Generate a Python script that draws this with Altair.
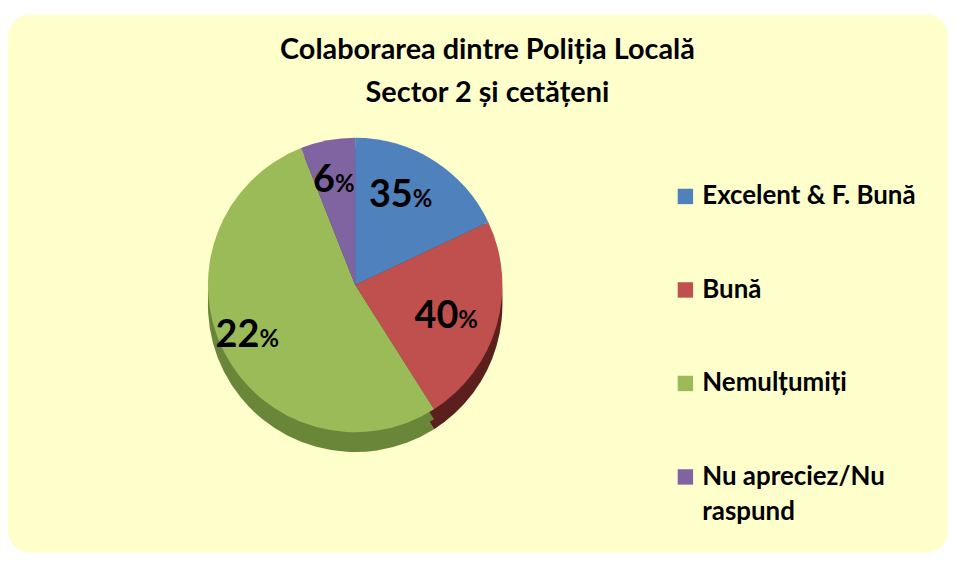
import altair as alt
import pandas as pd

# ---- data ----
categories = ["Excelent & F. Bună", "Bună", "Nemulțumiți", "Nu apreciez/Nu raspund"]
shares = [18, 23, 53, 6]                 # slice sizes as drawn
label_numbers = ["35", "40", "22", "6"]  # printed labels
top_colors = ["#4F81BD", "#C0504D", "#9BBB59", "#8064A2"]
side_colors = ["#2E4A6E", "#5B1F1E", "#6A8638", "#4A3A60"]
title_lines = ["Colaborarea dintre Poliția Locală", "Sector 2 și cetățeni"]

df = pd.DataFrame({
    "cat": categories,
    "share": shares,
    "num": label_numbers,
    "pct": ["%"] * len(categories),
    "side": side_colors,
    "idx": list(range(len(categories))),
})

W, H = 945, 541
CX, CY = 349, 272
R = 148
DEPTH = 20
FONT = "Lato"

base = alt.Chart(df).encode(
    theta=alt.Theta("share:Q", stack=True),
    order=alt.Order("idx:Q"),
)

side_far = base.mark_arc(outerRadius=R).encode(
    x=alt.value(CX), y=alt.value(CY + DEPTH),
    fill=alt.Fill("side:N", scale=None),
)
side_mid = base.mark_arc(outerRadius=R).encode(
    x=alt.value(CX), y=alt.value(CY + DEPTH / 2),
    fill=alt.Fill("side:N", scale=None),
)

top = base.mark_arc(outerRadius=R).encode(
    x=alt.value(CX), y=alt.value(CY),
    color=alt.Color(
        "cat:N",
        scale=alt.Scale(domain=categories, range=top_colors),
        legend=alt.Legend(
            title=None, orient="none", legendX=668, legendY=170, padding=0,
            symbolType="square", symbolSize=240, symbolStrokeWidth=0,
            labelFontSize=26, labelFont=FONT, labelFontWeight="bold",
            labelColor="black", rowPadding=68, labelLimit=400, labelOffset=4,
            labelExpr="datum.label == 'Nu apreciez/Nu raspund' ? ['Nu apreciez/Nu', 'raspund'] : datum.label",
        ),
    ),
)

num_text = base.mark_text(
    radius=108, fontSize=38, font=FONT, fontWeight="bold", align="right",
    baseline="alphabetic", dy=13, color="black",
).encode(x=alt.value(CX), y=alt.value(CY), text="num:N")

pct_text = base.mark_text(
    radius=108, fontSize=24, font=FONT, fontWeight="bold", align="left",
    baseline="alphabetic", dy=13, color="black",
).encode(x=alt.value(CX), y=alt.value(CY), text="pct:N")

title = alt.Chart(pd.DataFrame({"t": ["\n".join(title_lines)]})).mark_text(
    lineBreak="\n", lineHeight=43, fontSize=29, font=FONT, fontWeight="bold",
    align="center", baseline="top", color="black",
).encode(text="t:N", x=alt.value(482), y=alt.value(22))

chart = alt.layer(side_far, side_mid, top, num_text, pct_text, title).properties(
    width=W, height=H,
    autosize=alt.AutoSizeParams(type="none"),
    padding={"left": 0, "top": 5, "right": 0, "bottom": 0},
    background="white",
).configure(
    style={"guide-label": {"lineHeight": 35}},
    view=alt.ViewConfig(fill="#FFFFCC", cornerRadius=22, strokeWidth=0),
)

chart.save("out.html", embed_options={"renderer": "svg", "actions": False})
